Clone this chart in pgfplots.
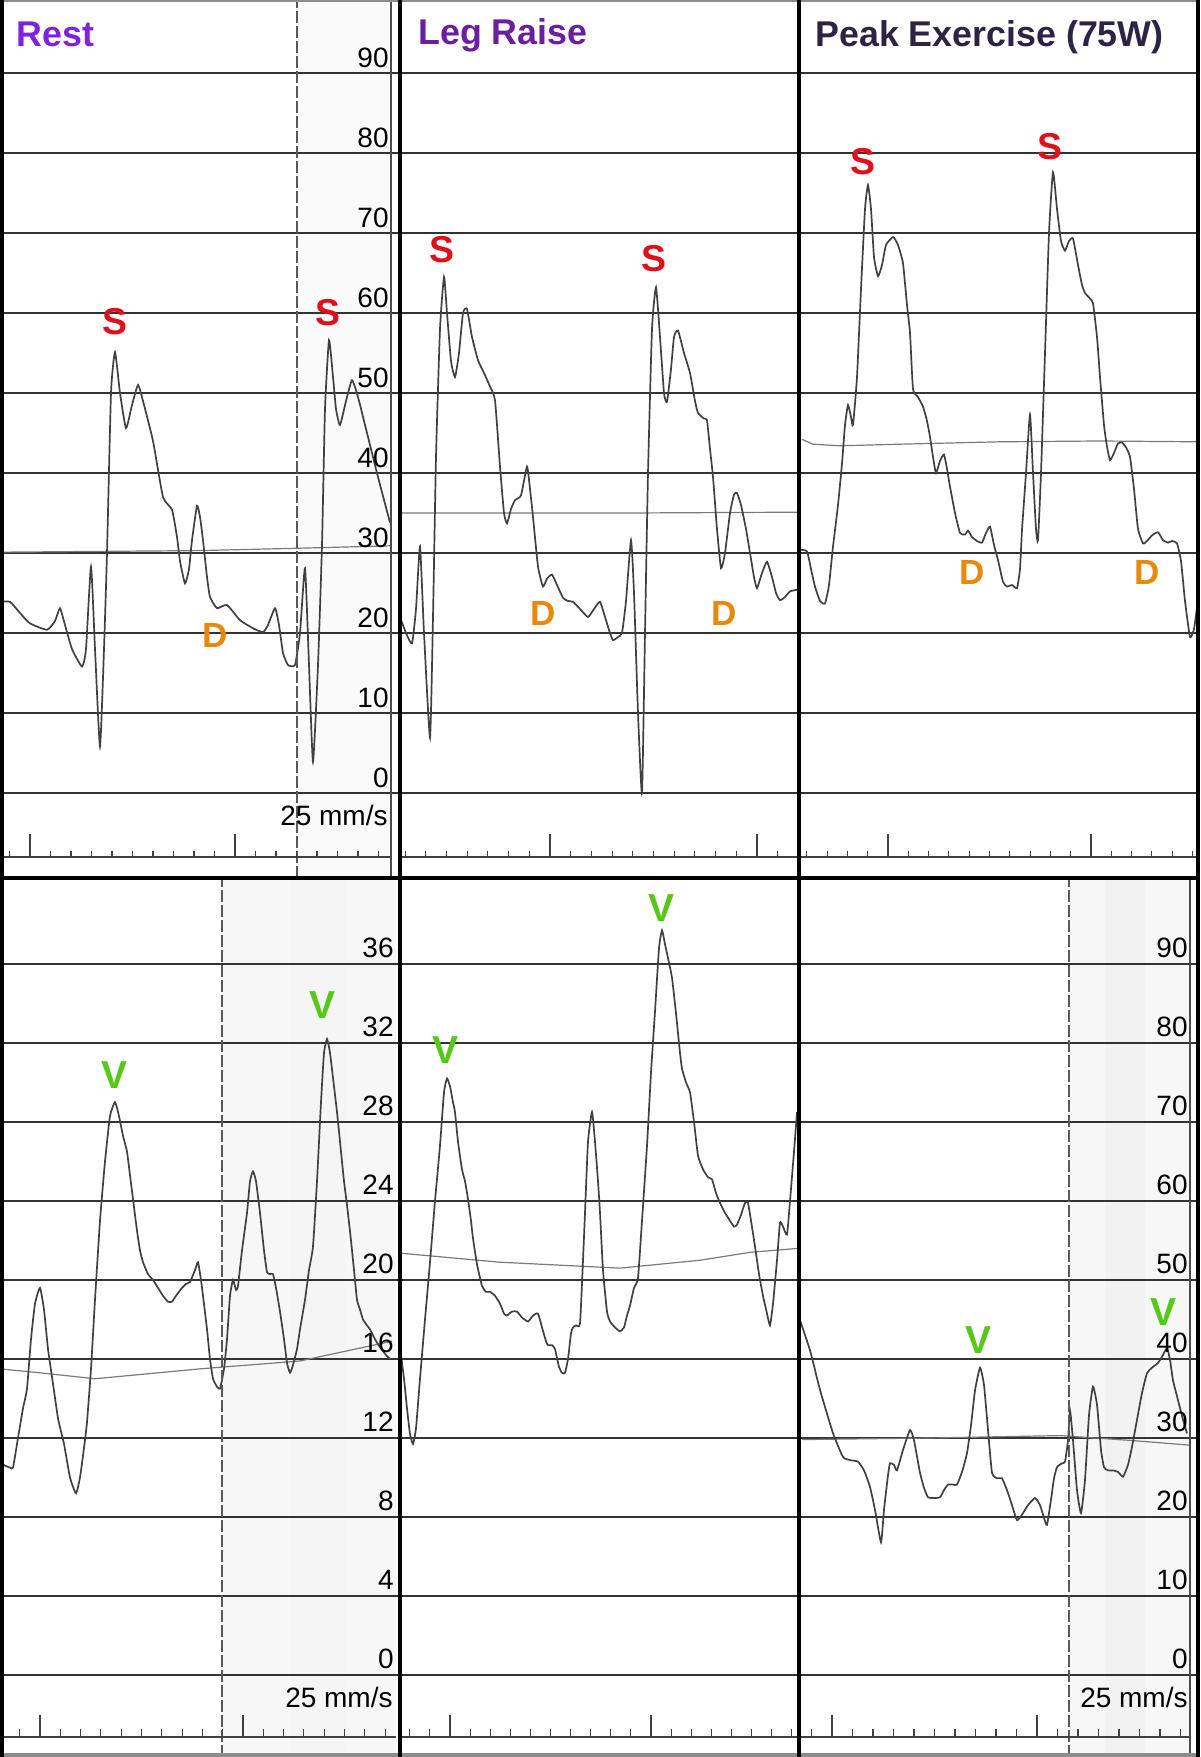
\documentclass[border=0pt]{standalone}
\usepackage{pgfplots}
\pgfplotsset{compat=1.18}
\usepackage{fontspec}
\setmainfont{Liberation Sans}
\definecolor{restc}{HTML}{7F22E0}
\definecolor{legc}{HTML}{6B1E9E}
\definecolor{peakc}{HTML}{2C2345}
\definecolor{sred}{HTML}{E0101A}
\definecolor{dor}{HTML}{E8890C}
\definecolor{vgr}{HTML}{55C818}
\newcommand\numf{\fontsize{14}{14}\selectfont}
\newcommand\titf{\fontsize{17.9}{18}\selectfont\bfseries}
\newcommand\sfnt{\fontsize{18.7}{19}\selectfont\bfseries}
\newcommand\dff{\fontsize{17.5}{18}\selectfont\bfseries}
\newcommand\vf{\fontsize{19.5}{20}\selectfont\bfseries}
\pgfplotsset{
 panel/.style={scale only axis, width=200pt, clip=false, xmin=0, xmax=400,
   axis line style={draw=none}, tick style={draw=none}, xtick=\empty,
   yticklabels={}, ymajorgrids, grid style={black!80, line width=0.9pt}},
 toprow/.style={panel, height=439pt, ymin=-10.625, ymax=99.125, ytick={0,10,20,30,40,50,60,70,80,90}},
 botrow/.style={panel, height=439.5pt, ymin=-4.1519, ymax=40.354, ytick={0,4,8,12,16,20,24,28,32,36}},
 botpeak/.style={panel, height=439.5pt, ymin=-10.380, ymax=100.886, ytick={0,10,20,30,40,50,60,70,80,90}},
 tr/.style={black!75, line width=0.85pt, mark=none, smooth, tension=0.3},
 base/.style={black!52, line width=0.6pt, mark=none},
}
\begin{document}
\begin{tikzpicture}[x=0.5pt,y=0.5pt]
% speckled bands
\fill[black!2] (297,879) rectangle (391,1757);
\fill[black!3] (222,0) rectangle (396,879);
\fill[black!4] (290,0) rectangle (345,879);
\fill[black!3] (1069,0) rectangle (1190,879);
\fill[black!5] (1105,0) rectangle (1145,879);

% ---------- Rest (top) ----------
\begin{axis}[toprow, at={(0pt,439.5pt)}]
\addplot[base] coordinates {(0,30.1) (200,30.3) (300,30.6) (391,30.9)};
\addplot[tr] coordinates {
(0,23.9) (10,23.9) (20,22.5) (30,21.2) (47,20.4) (55,21.5) (60,23.1) (65,21) (72,18)
(82,15.8) (86,18) (91,28.3) (95,18) (100,5.8) (104,18) (107,30) (111,50) (115,55.1)
(120,50) (126,45.6) (132,48.5) (138,51) (143,49) (153,44) (163,37) (172,35.4) (177,32)
(180,29) (185,26.2) (189,28) (192,31.6) (197,35.9) (200,34.5) (203,31.6) (207,27)
(210,24.5) (217,23.1) (227,23.5) (240,21.6) (253,20.6) (263,20.1) (268,21) (275,23.1)
(279,21) (283,17.5) (288,16) (295,16) (300,20) (305,28.1) (309,16) (313,3.9) (318,16)
(322,31) (325,48) (329,56.6) (333,52) (336,48) (340,46) (346,49) (352,51.6) (358,49.5)
(367,45) (378,39.5) (390,33.8)};
\end{axis}

% ---------- Leg Raise (top) ----------
\begin{axis}[toprow, at={(200pt,439.5pt)}]
\addplot[base] coordinates {(2,35) (100,35) (230,35) (398,35.1)};
\addplot[tr] coordinates {
(0,22) (6,20) (12,18.7) (16,23) (20,30.8) (24,20) (30,6.9) (33,22) (36,42) (40,58)
(44,64.5) (47,60) (51,54) (55,52) (59,55) (63,60) (67,60.5) (72,57) (78,54.1) (84,52.5)
(90,50.8) (95,49.1) (100,40.8) (104,35) (107,33.7) (111,35.5) (115,36.6) (121,37.2)
(127,40.8) (130,38) (133,34.5) (138,28.3) (143,25.8) (147,26.8) (152,27.3) (157,26)
(163,24.4) (168,24) (173,23.9) (180,23) (188,22) (194,23) (200,23.9) (205,22) (210,20)
(213,19.1) (218,19.5) (222,20) (226,24) (231,31.6) (234,25) (238,10) (242,0) (245,20)
(248,40) (252,58) (256,63.2) (260,57) (264,50) (267,48.9) (271,53) (274,57) (278,57.8)
(284,55) (290,52.5) (295,49) (298,47.5) (304,46.8) (307,46.6) (310,43) (313,39.5)
(317,33) (321,28.1) (325,30) (330,35) (334,37.3) (337,37.5) (341,36) (346,33) (350,30)
(354,27) (357,25.6) (362,27.5) (367,28.9) (372,27) (376,25) (380,24.1) (385,24.5)
(390,25.2) (397,25.4)};
\end{axis}

% ---------- Peak Exercise (top) ----------
\begin{axis}[toprow, at={(400pt,439.5pt)}]
\addplot[base] coordinates {(2,44.2) (13,43.6) (40,43.4) (100,43.6) (200,43.9) (300,44) (397,43.9)};
\addplot[tr] coordinates {
(0,30.4) (7,30.2) (11,28) (15,25.8) (20,24) (25,23.7) (29,26) (33,30.8) (38,36) (42,41.2)
(45,46) (48,48.5) (51,47) (53,46) (57,52) (61,63) (65,73) (68,76) (71,73) (74,67)
(78,64.6) (82,66) (86,68.5) (93,69.5) (98,68.5) (103,66.2) (107,61) (110,57.5) (113,50.5)
(118,49.5) (123,48.3) (127,46.5) (130,44.5) (133,42) (136,40) (140,41.5) (144,42.3)
(147,40.5) (150,38.3) (155,35) (160,32.5) (165,32.3) (168,32.8) (172,32) (177,31.5)
(182,31.3) (186,32.5) (190,33.3) (194,31) (198,29.1) (203,26.4) (207,25.8) (212,26)
(217,25.6) (220,28) (222,32.9) (226,40) (230,47.3) (233,40) (236,33) (238,31.6) (241,40)
(245,55) (249,70) (253,77.6) (257,73) (261,69) (265,67.8) (269,69) (273,69.3) (278,66)
(282,63.5) (285,62.5) (290,61.8) (293,61.2) (297,57) (300,52) (304,46) (307,43.3)
(310,41.6) (314,42.5) (318,43.7) (322,43.8) (326,43.2) (330,42) (334,38) (338,33)
(343,31.2) (347,31.5) (352,32.2) (358,32.6) (363,31.6) (368,31.3) (372,31.5) (377,31.2)
(381,29) (385,24) (390,19.5) (394,20.5) (397,23.2)};
\end{axis}

% ---------- Rest (bottom) ----------
\begin{axis}[botrow, at={(0pt,0pt)}]
\addplot[base] coordinates {(0,15.5) (40,15.3) (95,15) (200,15.5) (300,15.9) (392,16.9)};
\addplot[tr] coordinates {
(0,10.8) (5,10.6) (10,10.5) (13,10.5) (18,12) (23,13.5) (27,14.5) (31,17) (35,18.8)
(40,19.6) (44,18.5) (48,16.5) (52,15.1) (58,13) (64,11.7) (70,10) (76,9.2) (80,10)
(84,11.5) (87,12.8) (91,15.5) (95,19) (100,23) (105,26) (110,28.3) (115,29) (119,28.3)
(123,27.3) (127,26.5) (130,25.3) (133,24.1) (137,22.5) (140,21.5) (143,20.9) (148,20.3)
(153,20) (158,19.6) (163,19.2) (168,18.9) (172,18.9) (176,19.2) (182,19.6) (186,19.8)
(190,19.9) (195,20.5) (198,20.9) (201,20) (203,19.2) (207,17.5) (210,16) (213,15)
(217,14.6) (220,14.5) (224,15.5) (227,17) (230,19.2) (233,20) (236,19.5) (238,19.7)
(242,21.5) (247,23.4) (250,25) (253,25.5) (256,25) (260,23.4) (264,21.5) (267,20.4)
(270,20.3) (273,20.3) (276,19.6) (280,18.4) (284,17) (287,15.8) (290,15.3) (293,15.7)
(297,16.5) (300,17.5) (305,19) (309,20.5) (313,21.7) (317,25) (321,29) (324,31.5)
(327,32.2) (330,31.5) (334,29.8) (337,28.5) (341,26.5) (344,25) (347,23.8) (351,22)
(354,20.5) (357,19) (360,18.5) (363,18) (367,17.7) (370,17.5) (375,17) (380,16.6)
(386,16.2) (390,16)};
\end{axis}

% ---------- Leg Raise (bottom) ----------
\begin{axis}[botrow, at={(200pt,0pt)}]
\addplot[base] coordinates {(2,21.35) (100,20.9) (180,20.7) (220,20.6) (300,21) (350,21.4) (398,21.6)};
\addplot[tr] coordinates {
(0,16.6) (4,15) (7,13.5) (10,12.2) (13,11.7) (16,12.5) (20,15) (25,18) (30,20.9) (35,24)
(40,26.8) (44,29.5) (47,30.2) (50,29.8) (53,29) (55,28.5) (58,27) (62,25.6) (65,25)
(68,24.1) (71,23) (73,22.1) (77,20.8) (82,19.7) (86,19.4) (90,19.4) (95,19.2) (100,18.8)
(104,18.3) (107,18.2) (112,18.4) (117,18.4) (122,18.1) (128,17.9) (133,18.2) (138,18.3)
(142,17.6) (146,16.9) (148,16.7) (152,16.7) (155,16.5) (159,15.6) (162,15.3) (165,15.3)
(168,16) (171,17.3) (173,17.6) (176,17.7) (180,17.8) (183,21) (185,23.4) (188,27)
(192,28.5) (195,27) (198,25) (200,23.4) (203,20.5) (207,18.4) (210,17.9) (215,17.6)
(220,17.4) (224,17.6) (227,18.2) (230,18.7) (234,19.6) (238,20.1) (242,23) (247,26.8)
(251,30.5) (255,33.6) (259,36.8) (262,37.7) (265,37) (268,36.3) (272,35.3) (276,33.5)
(280,31.5) (282,30.7) (286,30) (290,29.5) (294,28) (298,26.3) (303,25.6) (308,25.2)
(312,25.1) (316,24.4) (320,23.9) (325,23.4) (330,23) (334,22.7) (337,22.8) (341,23.3)
(345,23.9) (348,23.9) (351,23) (355,21.7) (359,20.3) (363,19.2) (367,18.3) (370,17.7)
(373,18.8) (377,21) (380,22.9) (383,22.7) (387,22.3) (390,24) (394,26.5) (397,28.5)};
\end{axis}

% ---------- Peak Exercise (bottom) ----------
\begin{axis}[botpeak, at={(400pt,0pt)}]
\addplot[base] coordinates {(2,29.8) (130,30) (260,30.3) (330,29.7) (389,29.1)};
\addplot[tr] coordinates {
(0,44.9) (10,41.1) (20,36.1) (33,30.6) (43,27.6) (50,27.2) (58,27) (64,25.9) (70,23.8)
(75,20.9) (81,16.8) (84,20.9) (88,25.3) (90,26.8) (94,26.6) (97,25.9) (103,28.5) (110,31)
(114,29.7) (120,25.6) (124,23.7) (128,22.5) (134,22.4) (140,22.5) (144,23.4) (148,24.1)
(153,24.1) (157,24.1) (162,25.7) (167,28.1) (171,31.6) (175,36) (180,38.9) (184,36.7)
(188,31) (192,25.6) (197,24.9) (202,24.9) (207,23.4) (212,21.5) (217,19.6) (222,20.3)
(228,21.5) (235,22.4) (240,21.5) (244,19.9) (247,19) (251,22.2) (254,24.9) (257,26.3)
(262,26.8) (265,27) (268,29.7) (270,33.5) (273,29.7) (277,23.4) (281,20.5) (285,24.7)
(289,32.9) (293,36.5) (297,34.2) (301,28.5) (304,26.3) (308,25.9) (313,25.9) (318,25.7)
(323,25.1) (328,26.6) (332,28.9) (337,32.3) (342,35.7) (347,38.2) (352,38.9) (358,39.5)
(363,40.5) (367,41.4) (370,39.9) (373,37.3) (378,34.8) (383,32.3) (387,30.6)};
\end{axis}

% ---------- dashed time markers ----------
\draw[black!65, line width=0.6pt, dash pattern=on 6pt off 1.5pt] (297,879) -- (297,1757);
\draw[black!65, line width=0.6pt, dash pattern=on 6pt off 1.5pt] (222,0) -- (222,879);
\draw[black!65, line width=0.6pt, dash pattern=on 6pt off 1.5pt] (1069,0) -- (1069,879);

% ---------- scale numbers ----------
\foreach \k in {0,...,9} {
  \pgfmathtruncatemacro\lab{10*\k}
  \node[anchor=base east, font=\numf, inner sep=0] at (389,{964+80*\k+5}) {\lab};
  \pgfmathtruncatemacro\labb{4*\k}
  \node[anchor=base east, font=\numf, inner sep=0] at (394,{82+79*\k+6}) {\labb};
  \node[anchor=base east, font=\numf, inner sep=0] at (1188,{82+79*\k+6}) {\lab};
}
\node[anchor=base east, font=\numf, inner sep=0] at (388,931) {25 mm/s};
\node[anchor=base east, font=\numf, inner sep=0] at (393,49) {25 mm/s};
\node[anchor=base east, font=\numf, inner sep=0] at (1188,49) {25 mm/s};

% ---------- time rulers ----------
\begin{scope}[black!75, line width=0.55pt]
\draw (0,900) -- (391,900);
\foreach \k in {0,...,18} \draw ({9.5+20.5*\k},900) -- ++(0,6);
\draw (30,900) -- ++(0,23); \draw (235,900) -- ++(0,23);
\draw (402,900) -- (797,900);
\foreach \k in {-7,...,11} \draw ({550+20.7*\k},900) -- ++(0,6);
\draw (550,900) -- ++(0,23); \draw (757,900) -- ++(0,23);
\draw (801,900) -- (1196,900);
\foreach \k in {-4,...,15} \draw ({888+20.3*\k},900) -- ++(0,6);
\draw (888,900) -- ++(0,23); \draw (1091,900) -- ++(0,23);
\draw (0,20) -- (396,20);
\foreach \k in {-1,...,17} \draw ({40+20.3*\k},20) -- ++(0,8);
\draw (40,20) -- ++(0,22); \draw (243,20) -- ++(0,22);
\draw (402,20) -- (797,20);
\foreach \k in {-2,...,17} \draw ({450+20.1*\k},20) -- ++(0,8);
\draw (450,20) -- ++(0,22); \draw (651,20) -- ++(0,22);
\draw (801,20) -- (1190,20);
\foreach \k in {-1,...,17} \draw ({832+20.5*\k},20) -- ++(0,8);
\draw (832,20) -- ++(0,22); \draw (1037,20) -- ++(0,22);
\end{scope}

% ---------- frame ----------
\draw[black!70, line width=0.6pt] (391,879) -- (391,1757);
\draw[black!70, line width=0.6pt] (1190,0) -- (1190,879);
\draw[black!45, line width=1pt] (0,1756) -- (1200,1756);
\draw[black!45, line width=2pt] (0,2) -- (1200,2);
\draw[black, line width=1.8pt] (2,0) -- (2,1757);
\draw[black, line width=1.6pt] (1198,0) -- (1198,1757);
\draw[black, line width=2.4pt] (400,0) -- (400,1757);
\draw[black, line width=2.4pt] (799,0) -- (799,1757);
\draw[black, line width=2.4pt] (0,879) -- (1200,879);

% ---------- titles ----------
\node[anchor=base west, font=\titf, text=restc, inner sep=0] at (16,1710) {Rest};
\node[anchor=base west, font=\titf, text=legc, inner sep=0] at (418,1712) {Leg Raise};
\node[anchor=base west, font=\titf, text=peakc, inner sep=0] at (815,1710) {Peak Exercise (75W)};

% ---------- wave labels ----------
\foreach \p in {(115,1435),(328,1444),(442,1507),(654,1498),(863,1595),(1050,1610)}
  \node[font=\sfnt, text=sred, inner sep=0] at \p {S};
\foreach \p in {(215,1122),(543,1144),(724,1144),(972,1185),(1147,1185)}
  \node[font=\dff, text=dor, inner sep=0] at \p {D};
\foreach \p in {(115,682),(323,752),(446,707),(661,849),(978,417),(1163,445)}
  \node[font=\vf, text=vgr, inner sep=0] at \p {V};

\pgfresetboundingbox
\path[use as bounding box] (0,0) rectangle (1200,1757);
\end{tikzpicture}
\end{document}
